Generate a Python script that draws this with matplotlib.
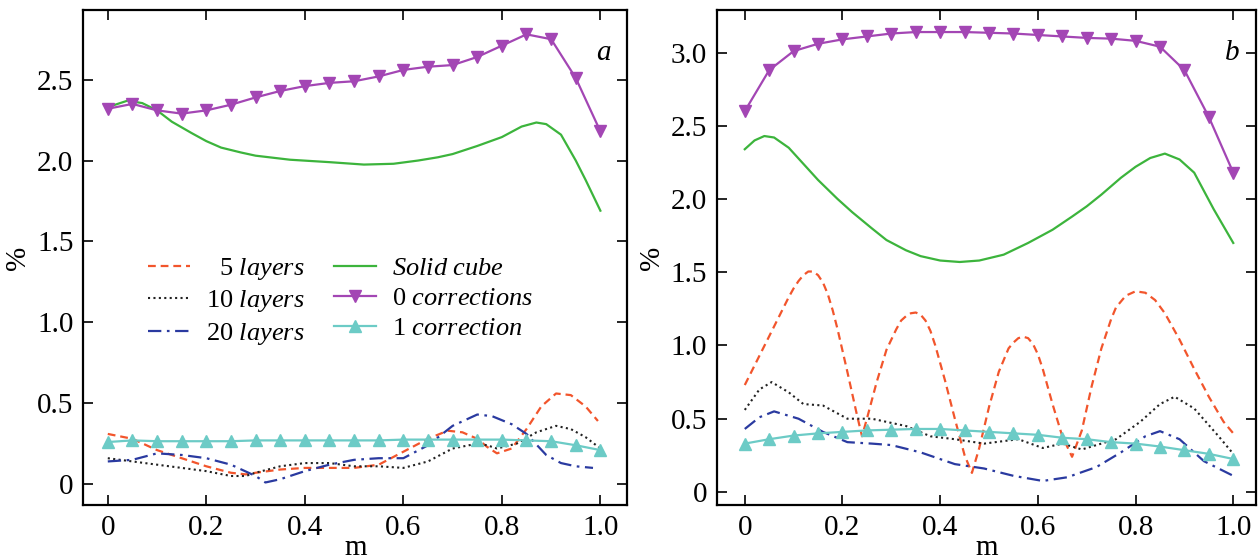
import matplotlib
matplotlib.use('Agg')
import matplotlib.pyplot as plt

plt.rcParams['font.family'] = ['Liberation Serif', 'DejaVu Serif']
plt.rcParams['mathtext.fontset'] = 'custom'
plt.rcParams['mathtext.rm'] = 'Liberation Serif'
plt.rcParams['mathtext.it'] = 'Liberation Serif:italic'

# marker grid
m_mark = [0, 0.05, 0.1, 0.15, 0.2, 0.25, 0.3, 0.35, 0.4, 0.45, 0.5,
          0.55, 0.6, 0.65, 0.7, 0.75, 0.8, 0.85, 0.9, 0.95, 1.0]

# ---- panel a ----
a_corr0 = [2.32, 2.35, 2.31, 2.29, 2.31, 2.345, 2.39, 2.43, 2.46, 2.48, 2.49,
           2.52, 2.56, 2.58, 2.59, 2.64, 2.71, 2.78, 2.75, 2.51, 2.18]
a_corr1 = [0.26, 0.27, 0.265, 0.265, 0.265, 0.265, 0.27, 0.27, 0.27, 0.27, 0.27,
           0.27, 0.275, 0.275, 0.275, 0.275, 0.275, 0.27, 0.265, 0.24, 0.21]

a_cube_m = [0.01, 0.04, 0.07, 0.1, 0.13, 0.17, 0.2, 0.23, 0.27, 0.3, 0.37, 0.45,
            0.52, 0.58, 0.63, 0.67, 0.7, 0.75, 0.8, 0.84, 0.87, 0.89, 0.92, 0.95,
            0.97, 1.0]
a_cube = [2.34, 2.37, 2.355, 2.31, 2.24, 2.17, 2.12, 2.08, 2.05, 2.03, 2.005, 1.99,
          1.975, 1.98, 2.0, 2.02, 2.04, 2.09, 2.145, 2.21, 2.235, 2.225, 2.16, 2.00,
          1.88, 1.69]

a_l5_m = [0.0, 0.05, 0.1, 0.15, 0.2, 0.25, 0.28, 0.3, 0.35, 0.4, 0.45, 0.5, 0.55,
          0.6, 0.65, 0.69, 0.72, 0.75, 0.77, 0.79, 0.82, 0.85, 0.88, 0.91, 0.94, 0.97, 0.995]
a_l5 = [0.31, 0.28, 0.21, 0.16, 0.11, 0.07, 0.06, 0.07, 0.09, 0.10, 0.10, 0.10, 0.12,
        0.20, 0.28, 0.33, 0.32, 0.28, 0.23, 0.19, 0.22, 0.34, 0.48, 0.56, 0.55, 0.48, 0.39]

a_l10_m = [0.0, 0.05, 0.1, 0.15, 0.2, 0.25, 0.28, 0.3, 0.35, 0.4, 0.45, 0.5, 0.55,
           0.6, 0.65, 0.7, 0.75, 0.77, 0.79, 0.83, 0.87, 0.91, 0.94, 0.97, 1.0]
a_l10 = [0.16, 0.14, 0.12, 0.10, 0.08, 0.05, 0.05, 0.07, 0.11, 0.13, 0.13, 0.11, 0.11,
         0.10, 0.14, 0.22, 0.25, 0.24, 0.22, 0.25, 0.32, 0.36, 0.34, 0.29, 0.22]

a_l20_m = [0.0, 0.05, 0.1, 0.15, 0.2, 0.25, 0.3, 0.32, 0.35, 0.4, 0.45, 0.5, 0.55,
           0.6, 0.65, 0.7, 0.75, 0.78, 0.82, 0.85, 0.89, 0.92, 0.95, 0.985]
a_l20 = [0.14, 0.15, 0.19, 0.18, 0.16, 0.12, 0.05, 0.01, 0.03, 0.08, 0.12, 0.15, 0.16,
         0.16, 0.24, 0.36, 0.43, 0.42, 0.37, 0.31, 0.18, 0.13, 0.11, 0.10]

# ---- panel b ----
b_corr0 = [2.60, 2.88, 3.01, 3.06, 3.09, 3.11, 3.13, 3.14, 3.14, 3.14, 3.135,
           3.13, 3.12, 3.11, 3.10, 3.095, 3.08, 3.04, 2.88, 2.56, 2.18]
b_corr1 = [0.33, 0.36, 0.385, 0.40, 0.41, 0.42, 0.425, 0.43, 0.43, 0.42, 0.41,
           0.40, 0.39, 0.37, 0.36, 0.34, 0.33, 0.31, 0.285, 0.26, 0.225]

b_cube_m = [0.0, 0.02, 0.04, 0.06, 0.09, 0.12, 0.15, 0.19, 0.22, 0.26, 0.29, 0.33,
            0.36, 0.40, 0.44, 0.48, 0.53, 0.58, 0.63, 0.67, 0.70, 0.73, 0.77, 0.80,
            0.83, 0.86, 0.89, 0.92, 0.96, 1.0]
b_cube = [2.34, 2.40, 2.43, 2.42, 2.35, 2.24, 2.13, 2.00, 1.91, 1.80, 1.72, 1.65,
          1.61, 1.58, 1.57, 1.58, 1.62, 1.70, 1.79, 1.88, 1.95, 2.03, 2.145, 2.22,
          2.28, 2.31, 2.27, 2.18, 1.93, 1.70]

b_l5_m = [0.0, 0.03, 0.06, 0.09, 0.10, 0.11, 0.12, 0.13, 0.14, 0.15, 0.16, 0.17,
          0.18, 0.19, 0.21, 0.23, 0.24, 0.25, 0.27, 0.29, 0.31, 0.32, 0.33, 0.34,
          0.35, 0.36, 0.37, 0.38, 0.39, 0.41, 0.43, 0.45, 0.465, 0.48, 0.50, 0.52,
          0.54, 0.55, 0.56, 0.57, 0.58, 0.59, 0.60, 0.61, 0.63, 0.65, 0.67, 0.69,
          0.71, 0.73, 0.75, 0.76, 0.78, 0.80, 0.82, 0.84, 0.86, 0.89, 0.92, 0.95,
          0.98, 1.0]
b_l5 = [0.73, 0.93, 1.13, 1.33, 1.39, 1.44, 1.48, 1.505, 1.505, 1.48, 1.43, 1.35,
        1.24, 1.11, 0.82, 0.52, 0.38, 0.50, 0.75, 0.97, 1.11, 1.17, 1.20, 1.22,
        1.225, 1.21, 1.17, 1.10, 1.00, 0.76, 0.50, 0.25, 0.13, 0.30, 0.58, 0.82,
        0.98, 1.02, 1.05, 1.06, 1.05, 1.01, 0.94, 0.84, 0.60, 0.38, 0.24, 0.42,
        0.72, 0.98, 1.18, 1.26, 1.34, 1.37, 1.36, 1.31, 1.22, 1.04, 0.84, 0.65,
        0.48, 0.40]

b_l10_m = [0.0, 0.03, 0.055, 0.09, 0.12, 0.16, 0.21, 0.26, 0.33, 0.38, 0.43, 0.49,
           0.56, 0.61, 0.65, 0.69, 0.76, 0.81, 0.85, 0.88, 0.92, 0.97, 1.0]
b_l10 = [0.56, 0.70, 0.75, 0.68, 0.60, 0.59, 0.50, 0.50, 0.45, 0.38, 0.36, 0.33,
         0.36, 0.30, 0.33, 0.29, 0.36, 0.48, 0.60, 0.65, 0.57, 0.38, 0.26]

b_l20_m = [0.0, 0.03, 0.06, 0.11, 0.16, 0.21, 0.26, 0.30, 0.36, 0.43, 0.49, 0.55,
           0.61, 0.66, 0.72, 0.77, 0.82, 0.85, 0.89, 0.94, 1.0]
b_l20 = [0.43, 0.51, 0.55, 0.50, 0.41, 0.34, 0.33, 0.32, 0.27, 0.19, 0.16, 0.11,
         0.075, 0.10, 0.17, 0.27, 0.38, 0.415, 0.36, 0.21, 0.11]

x_ticks = [0, 0.2, 0.4, 0.6, 0.8, 1.0]
x_ticklabels = ['0', '0.2', '0.4', '0.6', '0.8', '1.0']

c_l5 = '#f2552c'
c_l10 = '#222222'
c_l20 = '#2a3aa0'
c_cube = '#3cb43c'
c_c0 = '#a346b4'
c_c1 = '#6ccbc6'

fig = plt.figure(figsize=(12.6, 5.6), dpi=100)
ax1 = fig.add_axes([0.066, 0.098, 0.432, 0.884])
ax2 = fig.add_axes([0.569, 0.098, 0.428, 0.884])


def draw(ax, l5m, l5, l10m, l10, l20m, l20, cm, cube, c0, c1):
    ax.plot(l5m, l5, color=c_l5, ls=(0, (3.5, 2.2)), lw=1.6, label=r'  5 $\mathit{layers}$')
    ax.plot(l10m, l10, color=c_l10, ls=(0, (1, 1.6)), lw=1.5, label=r'10 $\mathit{layers}$')
    ax.plot(l20m, l20, color=c_l20, ls=(0, (6, 2.5, 1.2, 2.5)), lw=1.6,
            label=r'20 $\mathit{layers}$')
    ax.plot(cm, cube, color=c_cube, lw=1.6, label=r'$\mathit{Solid\ cube}$')
    ax.plot(m_mark, c0, color=c_c0, lw=1.6, marker='v', ms=8,
            label=r'0 $\mathit{corrections}$')
    ax.plot(m_mark, c1, color=c_c1, lw=1.6, marker='^', ms=8,
            label=r'1 $\mathit{correction}$')
    ax.set_xticks(x_ticks)
    ax.set_xticklabels(x_ticklabels)
    ax.tick_params(direction='in', top=True, right=True, length=7, width=1.2,
                   labelsize=21, pad=7)
    for s in ax.spines.values():
        s.set_linewidth(1.6)
    ax.set_xlabel('m', fontsize=21, labelpad=-4)
    ax.set_ylabel('%', fontsize=21, labelpad=4)


draw(ax1, a_l5_m, a_l5, a_l10_m, a_l10, a_l20_m, a_l20, a_cube_m, a_cube, a_corr0, a_corr1)
draw(ax2, b_l5_m, b_l5, b_l10_m, b_l10, b_l20_m, b_l20, b_cube_m, b_cube, b_corr0, b_corr1)

ax1.set_xlim(-0.05, 1.055)
ax1.set_ylim(-0.13, 2.93)
ax1.set_yticks([0, 0.5, 1.0, 1.5, 2.0, 2.5])
ax1.set_yticklabels(['0', '0.5', '1.0', '1.5', '2.0', '2.5'])

ax2.set_xlim(-0.057, 1.047)
ax2.set_ylim(-0.09, 3.29)
ax2.set_yticks([0, 0.5, 1.0, 1.5, 2.0, 2.5, 3.0])
ax2.set_yticklabels(['0', '0.5', '1.0', '1.5', '2.0', '2.5', '3.0'])

ax1.text(0.955, 0.9, 'a', transform=ax1.transAxes, fontsize=21, style='italic', ha='center')
ax2.text(0.955, 0.9, 'b', transform=ax2.transAxes, fontsize=21, style='italic', ha='center')

ax1.legend(ncol=2, loc='upper left', bbox_to_anchor=(0.1, 0.525), frameon=False,
           fontsize=19, handlelength=1.6, handletextpad=0.6, columnspacing=1.1,
           labelspacing=0.25, borderaxespad=0)

fig.savefig('out.png', dpi=100)
